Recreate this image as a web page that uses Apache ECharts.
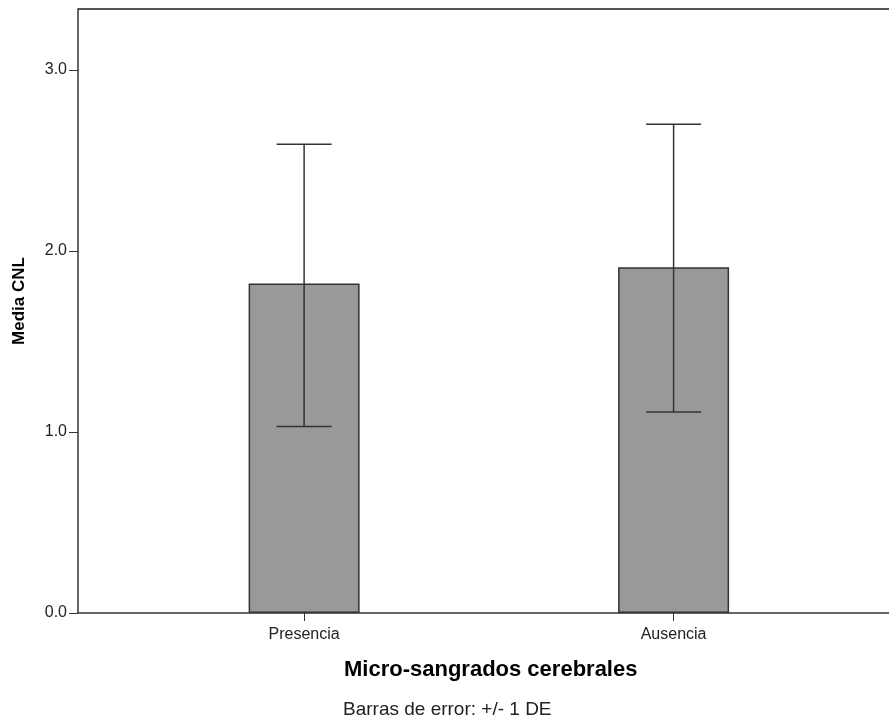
<!DOCTYPE html>
<html>
<head>
<meta charset="utf-8">
<script src="https://cdn.jsdelivr.net/npm/echarts@6/dist/echarts.min.js"></script>
<style>html,body{margin:0;padding:0;background:#fff}#c{width:889px;height:725px}</style>
</head>
<body>
<div id="c"></div>
<script>
var categories = ['Presencia', 'Ausencia'];
var means = [1.82, 1.91];
var lowerSD = [1.03, 1.11];
var upperSD = [2.59, 2.70];
var yTicks = [0, 1, 2, 3];
var xTitle = 'Micro-sangrados cerebrales';
var yTitle = 'Media CNL';
var footnote = 'Barras de error: +/- 1 DE';

var chart = echarts.init(document.getElementById('c'), null, {renderer: 'canvas'});
var barData = categories.map(function (c, i) { return [i, means[i]]; });
var errData = categories.map(function (c, i) { return [i, lowerSD[i], upperSD[i]]; });

var option = {
  backgroundColor: '#ffffff',
  animation: false,
  grid: {left: 78, right: 0, top: 9, bottom: 112, containLabel: false},
  xAxis: {
    type: 'value', min: -0.612, max: 1.583,
    splitLine: {show: false},
    axisLine: {show: true, onZero: false, lineStyle: {color: '#333', width: 1.5}},
    axisTick: {show: true, customValues: [0, 1], length: 8, lineStyle: {color: '#333'}},
    axisLabel: {show: true, customValues: [0, 1], margin: 14,
      formatter: function (v) { return categories[Math.round(v)]; },
      color: '#222', fontFamily: 'Liberation Sans', fontSize: 16}
  },
  yAxis: {
    type: 'value', min: 0, max: 3.337,
    splitLine: {show: false},
    axisLine: {show: true, onZero: false, lineStyle: {color: '#333', width: 1.5}},
    axisTick: {show: true, customValues: yTicks, length: 9, lineStyle: {color: '#333'}},
    axisLabel: {customValues: yTicks, margin: 11, formatter: function (v) { return v.toFixed(1); },
      color: '#222', fontFamily: 'Liberation Sans', fontSize: 16}
  },
  graphic: [
    {type: 'line', shape: {x1: 78, y1: 9, x2: 889, y2: 9}, style: {stroke: '#555', lineWidth: 2}},
    {type: 'text', x: 344, y: 670, style: {text: xTitle, verticalAlign: 'middle', align: 'left',
      font: 'bold 22px "Liberation Sans"', fill: '#000'}},
    {type: 'text', x: 343, y: 710, style: {text: footnote, verticalAlign: 'middle', align: 'left',
      font: '19px "Liberation Sans"', fill: '#222'}},
    {type: 'text', x: 19, y: 301, rotation: Math.PI / 2, style: {text: yTitle, verticalAlign: 'middle', align: 'center',
      font: 'bold 17px "Liberation Sans"', fill: '#000'}}
  ],
  series: [
    {
      type: 'bar', data: barData, barWidth: 111,
      itemStyle: {color: '#999999', borderColor: '#333', borderWidth: 1.5}
    },
    {
      type: 'custom', data: errData, z: 10,
      renderItem: function (params, api) {
        var x = api.value(0);
        var lo = api.coord([x, api.value(1)]);
        var hi = api.coord([x, api.value(2)]);
        var half = 27.5;
        var st = {stroke: '#333', lineWidth: 1.5};
        return {type: 'group', children: [
          {type: 'line', shape: {x1: lo[0], y1: lo[1], x2: hi[0], y2: hi[1]}, style: st},
          {type: 'line', shape: {x1: hi[0] - half, y1: hi[1], x2: hi[0] + half, y2: hi[1]}, style: st},
          {type: 'line', shape: {x1: lo[0] - half, y1: lo[1], x2: lo[0] + half, y2: lo[1]}, style: st}
        ]};
      }
    }
  ]
};
chart.setOption(option);
</script>
</body>
</html>
